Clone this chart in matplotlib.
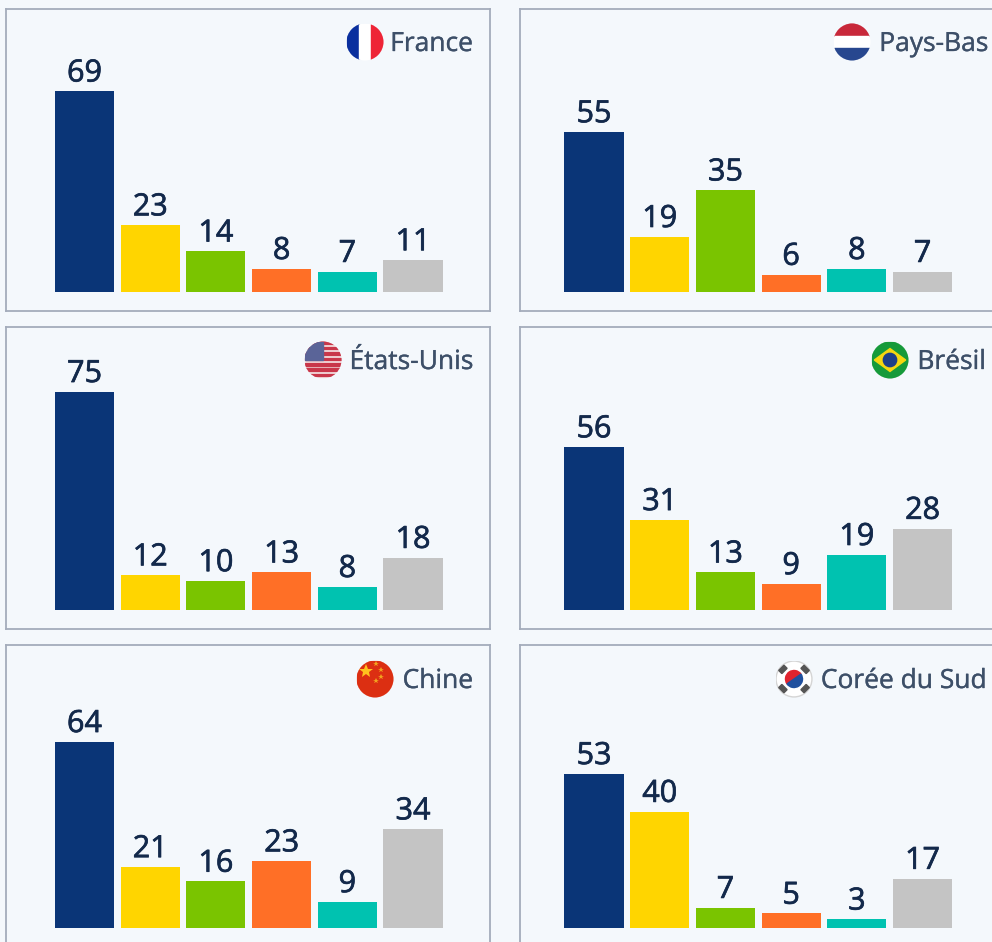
import matplotlib
matplotlib.use('Agg')
import matplotlib.pyplot as plt
import matplotlib.patheffects as pe
from matplotlib.patches import Circle, Rectangle, Polygon, Wedge

W, H = 992, 942

pays = ['France', 'Pays-Bas', 'États-Unis', 'Brésil', 'Chine', 'Corée du Sud']
france = [69, 23, 14, 8, 7, 11]
pays_bas = [55, 19, 35, 6, 8, 7]
etats_unis = [75, 12, 10, 13, 8, 18]
bresil = [56, 31, 13, 9, 19, 28]
chine = [64, 21, 16, 23, 9, 34]
coree = [53, 40, 7, 5, 3, 17]
valeurs = [france, pays_bas, etats_unis, bresil, chine, coree]
couleurs = ['#0a3577', '#ffd500', '#7ac400', '#ff6f26', '#00c2b0', '#c4c4c4']

FOND = '#f4f8fc'
BORD = '#a4acbb'
TEXTE = '#13294b'
LABEL = '#3d4f68'

plt.rcParams['font.family'] = ['Open Sans', 'DejaVu Sans']

fig = plt.figure(figsize=(W / 100, H / 100), dpi=100, facecolor=FOND)


def axes_px(x0, y0, x1, y1):
    # rectangle en pixels, origine en haut à gauche
    return fig.add_axes([x0 / W, (H - y1) / H, (x1 - x0) / W, (y1 - y0) / H])


# Drapeaux
def drapeau_france(ax, clip):
    ax.add_patch(Rectangle((-1, -1), 0.68, 2, color='#0a2f9e', clip_path=clip))
    ax.add_patch(Rectangle((-0.32, -1), 0.64, 2, color='white', clip_path=clip))
    ax.add_patch(Rectangle((0.32, -1), 0.68, 2, color='#ee2436', clip_path=clip))


def drapeau_pays_bas(ax, clip):
    ax.add_patch(Rectangle((-1, 0.33), 2, 0.67, color='#c8283a', clip_path=clip))
    ax.add_patch(Rectangle((-1, -0.33), 2, 0.66, color='white', clip_path=clip))
    ax.add_patch(Rectangle((-1, -1), 2, 0.67, color='#27478f', clip_path=clip))


def drapeau_usa(ax, clip):
    ax.add_patch(Rectangle((-1, -1), 2, 2, color='#f7eeee', clip_path=clip))
    for i in range(7):
        ax.add_patch(Rectangle((-1, 0.86 - i * 0.29), 2, 0.145, color='#c9374a', clip_path=clip))
    ax.add_patch(Rectangle((-1, 0.0), 1.0, 1, color='#5a6498', clip_path=clip))


def drapeau_bresil(ax, clip):
    ax.add_patch(Rectangle((-1, -1), 2, 2, color='#169a3a', clip_path=clip))
    ax.add_patch(Polygon([(-0.85, 0), (0, 0.62), (0.85, 0), (0, -0.62)], color='#f5d70f', clip_path=clip))
    ax.add_patch(Circle((0, 0), 0.36, color='#1d3f87'))


def drapeau_chine(ax, clip):
    ax.add_patch(Rectangle((-1, -1), 2, 2, color='#dc2f12', clip_path=clip))
    ax.plot([-0.48], [0.42], marker='*', ms=10, color='#ffc21e', mew=0)
    for x, y in [(0.05, 0.82), (0.3, 0.48), (0.3, 0.12), (0.05, -0.12)]:
        ax.plot([x], [y], marker='*', ms=4, color='#f2a31e', mew=0)


def drapeau_coree(ax, clip):
    ax.add_patch(Circle((0, 0), 0.97, facecolor='white', edgecolor='#d5d5d5', lw=1))
    ax.add_patch(Wedge((0, 0), 0.46, 35, 215, color='#e0232e'))
    ax.add_patch(Wedge((0, 0), 0.46, 215, 395, color='#20509e'))
    for x, y, a in [(-0.6, 0.52, 45), (0.6, 0.52, -45), (-0.6, -0.52, -45), (0.6, -0.52, 45)]:
        ax.add_patch(Rectangle((x - 0.2, y - 0.12), 0.4, 0.24, angle=a, rotation_point='center', color='#555555'))


drapeaux = [drapeau_france, drapeau_pays_bas, drapeau_usa, drapeau_bresil, drapeau_chine, drapeau_coree]
centres = [(365, 42), (852, 42), (323, 360), (890, 360), (375, 679), (794, 679)]
fins_label = [473, 988, 473, 986, 473, 987]

for i, nom in enumerate(pays):
    col = i % 2
    lig = i // 2
    x0 = 6 if col == 0 else 520
    y0 = 9 + lig * 318
    ax = axes_px(x0, y0, x0 + 484, y0 + 302)
    ax.set_facecolor(FOND)
    decalage = (78.5 if col == 0 else 74) / 65.7
    ax.set_xlim(-decalage, 484 / 65.7 - decalage)
    ax.set_ylim(-19 / 2.91, 283 / 2.91)
    ax.set_xticks([])
    ax.set_yticks([])
    for s in ax.spines.values():
        s.set_color(BORD)
        s.set_linewidth(1.3)

    ax.bar(range(6), valeurs[i], width=0.9, color=couleurs)
    for j, v in enumerate(valeurs[i]):
        t = ax.annotate(str(v), (j, v), xytext=(0, 7), textcoords='offset points',
                        ha='center', va='baseline', fontsize=22, color=TEXTE)
        t.set_path_effects([pe.withStroke(linewidth=0.5, foreground=TEXTE)])

    cy = centres[i][1]
    t = fig.text(fins_label[i] / W, (H - cy - 9) / H, nom, ha='right', va='baseline',
                 fontsize=19, color=LABEL)
    t.set_path_effects([pe.withStroke(linewidth=0.25, foreground=LABEL)])

    # drapeau rond
    cx = centres[i][0]
    r = 18.5
    fa = axes_px(cx - r, cy - r, cx + r, cy + r)
    fa.set_xlim(-1, 1)
    fa.set_ylim(-1, 1)
    fa.axis('off')
    cercle = Circle((0, 0), 1, transform=fa.transData)
    drapeaux[i](fa, cercle)

fig.savefig('out.png', dpi=100, facecolor=FOND)
